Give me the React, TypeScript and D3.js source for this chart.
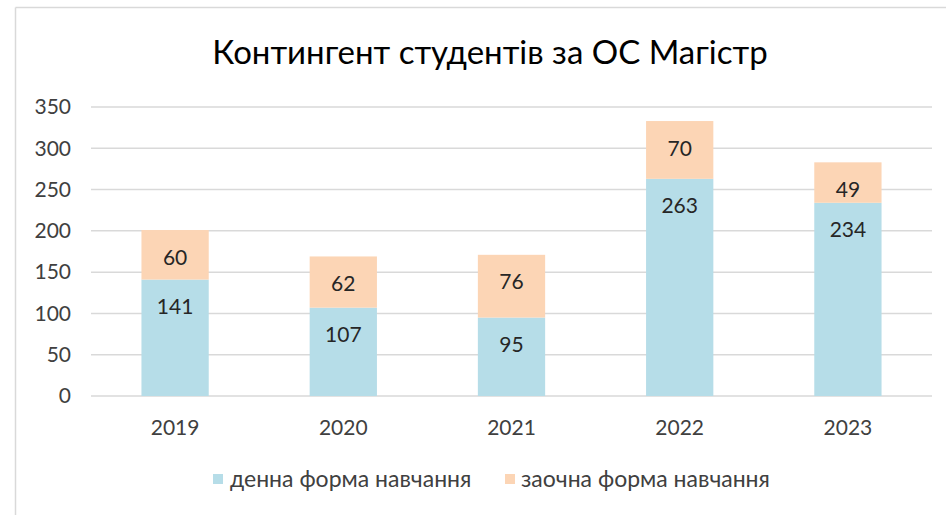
import React from "react";
import * as d3 from "d3";

const years = ["2019", "2020", "2021", "2022", "2023"];
const fullTime = [141, 107, 95, 263, 234];
const partTime = [60, 62, 76, 70, 49];
const seriesNames = ["денна форма навчання", "заочна форма навчання"];
const yTicks = [0, 50, 100, 150, 200, 250, 300, 350];
const title = "Контингент студентів за ОС Магістр";

const W = 946;
const H = 515;
const colors = ["#B6DDE8", "#FCD5B5"];
const FONT = "Lato, 'Open Sans', sans-serif";

export default function App() {
  const x = d3.scaleBand<string>().domain(years).range([91, 932]).paddingInner(0.6).paddingOuter(0.3);
  const y = d3.scaleLinear().domain([0, 350]).range([396, 107]);

  const rows = years.map((yr, i) => ({ year: yr, full: fullTime[i], part: partTime[i] }));
  const stack = d3.stack<any>().keys(["full", "part"])(rows);

  return (
    <div style={{ position: "fixed", left: 0, top: 0, margin: 0 }}>
      <svg width={W} height={H} style={{ display: "block", background: "#fff" }} fontFamily={FONT}>
        <rect x={0} y={0} width={W} height={H} fill="#fff" />
        <line x1={15.5} y1={7.5} x2={W} y2={7.5} stroke="#D9D9D9" strokeWidth={1.5} />
        <line x1={15.5} y1={7.5} x2={15.5} y2={H} stroke="#D9D9D9" strokeWidth={1.5} />
        <text x={490} y={64} textAnchor="middle" fontSize={33} fill="#000">{title}</text>
        {yTicks.map((t) => (
          <g key={t}>
            <line x1={91} x2={932} y1={y(t)} y2={y(t)} stroke="#D9D9D9" strokeWidth={1.5} />
            <text x={71} y={y(t)} dy="0.35em" textAnchor="end" fontSize={21} fill="#404040">{t}</text>
          </g>
        ))}
        {stack.map((s, si) => (
          <g key={si}>
            {s.map((d, i) => (
              <g key={i}>
                <rect x={x(years[i])} y={y(d[1])} width={x.bandwidth()} height={y(d[0]) - y(d[1])} fill={colors[si]} />
                <text x={(x(years[i]) as number) + x.bandwidth() / 2} y={y(d[1]) + 27} dy="0.36em" textAnchor="middle" fontSize={21} fill="#262626">
                  {d[1] - d[0]}
                </text>
              </g>
            ))}
          </g>
        ))}
        {years.map((yr) => (
          <text key={yr} x={(x(yr) as number) + x.bandwidth() / 2} y={427} dy="0.36em" textAnchor="middle" fontSize={21} fill="#404040">{yr}</text>
        ))}
        <g>
          <rect x={213} y={474} width={10} height={10} fill={colors[0]} />
          <text x={230} y={479} dy="0.36em" fontSize={23} fill="#404040">{seriesNames[0]}</text>
          <rect x={505} y={474} width={10} height={10} fill={colors[1]} />
          <text x={521} y={479} dy="0.36em" fontSize={23} fill="#404040">{seriesNames[1]}</text>
        </g>
      </svg>
    </div>
  );
}
